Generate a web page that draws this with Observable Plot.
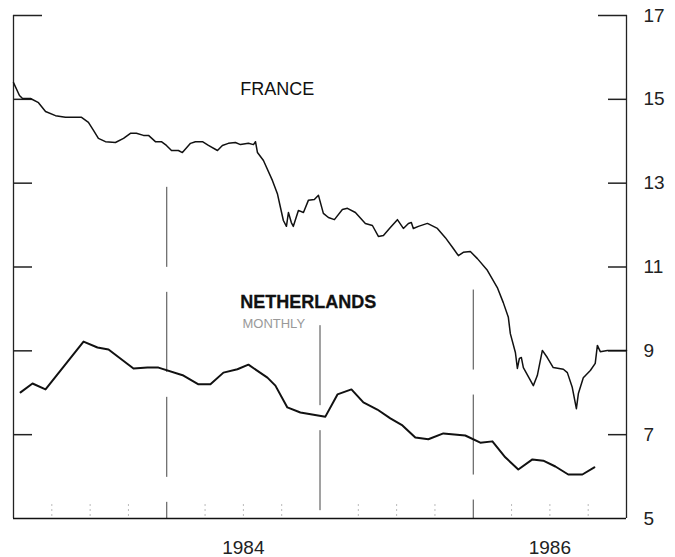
<!DOCTYPE html>
<html><head><meta charset="utf-8">
<script src="https://cdn.jsdelivr.net/npm/d3@7"></script>
<script src="https://cdn.jsdelivr.net/npm/@observablehq/plot@0.6"></script>
<style>body{margin:0;background:#fff}</style>
</head><body><div id="chart"></div>
<script>
// France (daily): decimal year and value
const franceYear = [1983.000,1983.039,1983.059,1983.111,1983.163,1983.209,1983.274,1983.339,1983.444,1983.489,1983.522,1983.554,1983.600,1983.665,1983.718,1983.763,1983.802,1983.848,1983.881,1983.926,1983.965,1983.998,1984.031,1984.076,1984.102,1984.155,1984.187,1984.233,1984.272,1984.331,1984.363,1984.402,1984.448,1984.481,1984.533,1984.566,1984.579,1984.592,1984.631,1984.690,1984.722,1984.742,1984.761,1984.781,1984.794,1984.813,1984.826,1984.859,1984.892,1984.924,1984.963,1984.990,1985.022,1985.055,1985.094,1985.146,1985.179,1985.231,1985.296,1985.342,1985.381,1985.414,1985.459,1985.505,1985.544,1985.577,1985.596,1985.609,1985.642,1985.701,1985.766,1985.818,1985.870,1985.903,1985.935,1985.981,1986.027,1986.092,1986.157,1986.196,1986.229,1986.242,1986.275,1986.288,1986.301,1986.314,1986.327,1986.392,1986.418,1986.451,1986.483,1986.522,1986.588,1986.614,1986.646,1986.673,1986.686,1986.718,1986.764,1986.796,1986.810,1986.829,1986.875,1987.000];
const franceValue = [15.40,15.09,15.02,15.02,14.92,14.71,14.61,14.57,14.57,14.45,14.26,14.07,13.99,13.97,14.07,14.19,14.19,14.14,14.14,13.99,13.99,13.90,13.78,13.78,13.73,13.95,13.99,13.99,13.90,13.78,13.90,13.95,13.97,13.92,13.95,13.92,13.99,13.73,13.54,13.06,12.75,12.42,12.11,11.97,12.30,12.06,11.97,12.35,12.30,12.59,12.61,12.71,12.28,12.18,12.13,12.37,12.40,12.30,12.04,11.99,11.73,11.75,11.94,12.13,11.92,12.04,12.06,11.92,11.97,12.04,11.92,11.70,11.44,11.27,11.35,11.37,11.20,10.92,10.51,10.15,9.80,9.41,8.96,8.58,8.82,8.84,8.60,8.17,8.41,9.01,8.84,8.60,8.56,8.48,8.13,7.62,7.98,8.36,8.53,8.70,9.13,8.98,9.01,9.01];

// Netherlands (monthly)
const nlYear = [1983.046,1983.124,1983.209,1983.457,1983.548,1983.620,1983.783,1983.874,1983.946,1984.109,1984.207,1984.285,1984.370,1984.461,1984.533,1984.657,1984.709,1984.787,1984.872,1985.035,1985.114,1985.205,1985.283,1985.374,1985.459,1985.538,1985.622,1985.707,1985.805,1985.948,1986.046,1986.125,1986.209,1986.294,1986.386,1986.457,1986.536,1986.620,1986.712,1986.790];
const nlValue = [8.01,8.22,8.08,9.22,9.08,9.03,8.58,8.60,8.60,8.41,8.20,8.20,8.48,8.56,8.67,8.36,8.17,7.65,7.53,7.43,7.96,8.08,7.77,7.60,7.39,7.22,6.93,6.89,7.03,6.98,6.81,6.84,6.46,6.17,6.41,6.38,6.24,6.05,6.05,6.22];

const yTicks = [5, 7, 9, 11, 13, 15, 17];
const innerTicks = [7, 9, 11, 13, 15];
const topTick = [17];
const yearLabels = ["1984", "1986"];
const yearLabelAt = [1984.5, 1986.5];
const yearDividers = [1984, 1985, 1986];
const dividerTop = [12.9, 9.6, 10.45];
const quarterTicks = [1983.25,1983.5,1983.75,1984.25,1984.5,1984.75,1985.25,1985.5,1985.75,1986.25,1986.5,1986.75];

const france = franceYear.map((x, i) => ({x, v: franceValue[i]}));
const nl = nlYear.map((x, i) => ({x, v: nlValue[i]}));
const dividers = yearDividers.map((x, i) => ({x, top: dividerTop[i]}));

const chart = Plot.plot({
  width: 675, height: 557,
  marginLeft: 13, marginRight: 49, marginTop: 15, marginBottom: 39,
  x: {domain: [1983, 1987]},
  y: {domain: [5, 17]},
  style: {fontFamily: "'Liberation Sans', Arial, sans-serif", background: "white", color: "#222"},
  marks: [
    Plot.axisX({anchor: "bottom", ticks: quarterTicks, tickSize: 14, dy: -14, tickFormat: () => "", stroke: "#bbb", strokeDasharray: "2,3", label: null}),
    Plot.ruleX(dividers, {x: "x", y1: "top", y2: 5, stroke: "#444", strokeWidth: 1, strokeDasharray: "80,25"}),
    Plot.ruleX([1983, 1987], {stroke: "#222", strokeWidth: 1.3}),
    Plot.ruleY([5], {stroke: "#111", strokeWidth: 1.7}),
    Plot.axisY({anchor: "left", ticks: innerTicks, tickSize: 19, dx: 19, tickFormat: () => "", strokeWidth: 1.5, label: null}),
    Plot.axisY({anchor: "left", ticks: topTick, tickSize: 29, dx: 29, tickFormat: () => "", strokeWidth: 1.5, label: null}),
    Plot.axisY({anchor: "right", ticks: innerTicks, tickSize: 19, dx: -19, tickFormat: () => "", strokeWidth: 1.5, label: null}),
    Plot.axisY({anchor: "right", ticks: topTick, tickSize: 29, dx: -29, tickFormat: () => "", strokeWidth: 1.5, label: null}),
    Plot.axisY({anchor: "right", ticks: yTicks, tickSize: 0, tickPadding: 17, fontSize: 19, fill: "#222", label: null}),
    Plot.axisX({anchor: "bottom", ticks: yearLabelAt, tickFormat: (d) => yearLabels[yearLabelAt.indexOf(d)], tickSize: 0, tickPadding: 22, fontSize: 19, fill: "#222", label: null}),
    Plot.line(france, {x: "x", y: "v", stroke: "#111", strokeWidth: 1.5}),
    Plot.line(nl, {x: "x", y: "v", stroke: "#111", strokeWidth: 2}),
    Plot.text(["FRANCE"], {x: 1984.48, y: 15.25, text: d => d, textAnchor: "start", fontSize: 18, fill: "#111"}),
    Plot.text(["NETHERLANDS"], {x: 1984.48, y: 10.17, text: d => d, textAnchor: "start", fontSize: 18, fontWeight: 600, fill: "#111", stroke: "#111", strokeWidth: 0.3}),
    Plot.text(["MONTHLY"], {x: 1984.494, y: 9.65, text: d => d, textAnchor: "start", fontSize: 13, fill: "#999", style: "letter-spacing:2.2px"})
  ]
});
document.getElementById("chart").appendChild(chart);
</script></body></html>
